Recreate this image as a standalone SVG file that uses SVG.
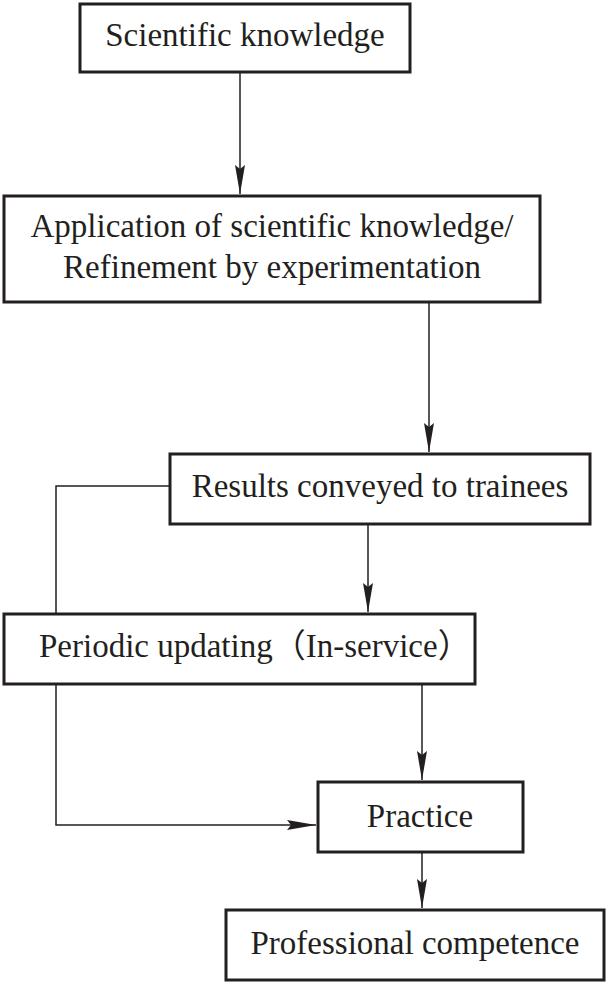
<svg xmlns="http://www.w3.org/2000/svg" width="607" height="983" viewBox="0 0 607 983">
<style>
.box{fill:#fff;stroke:#231f20;stroke-width:3}
.t{font-family:"Liberation Serif","Noto Sans CJK SC",serif;font-size:33px;fill:#231f20}
.c{text-anchor:middle}
.ln{fill:none;stroke:#231f20;stroke-width:1.5}
</style>
<defs>
<marker id="ah" markerUnits="userSpaceOnUse" viewBox="-30 -6 30 12" markerWidth="30" markerHeight="12" refX="0" refY="0" orient="auto">
<path d="M0,0 L-29,-5 L-25,0 L-29,5 Z" fill="#231f20"/>
</marker>
</defs>
<rect width="607" height="983" fill="#fff"/>
<g id="connectors">
<path class="ln" d="M240,72 V194" marker-end="url(#ah)"/>
<path class="ln" d="M429,302 V452" marker-end="url(#ah)"/>
<path class="ln" d="M368,524 V612" marker-end="url(#ah)"/>
<path class="ln" d="M170,486 H56 V614"/>
<path class="ln" d="M56,684 V825 H316" marker-end="url(#ah)"/>
<path class="ln" d="M422,684 V780" marker-end="url(#ah)"/>
<path class="ln" d="M422,852 V908" marker-end="url(#ah)"/>
</g>
<g id="n1">
<rect class="box" x="80" y="4" width="330" height="68"/>
<text class="t c" x="245" y="46">Scientific knowledge</text>
</g>
<g id="n2">
<rect class="box" x="4" y="196" width="536" height="106"/>
<text class="t c" x="272" y="237">Application of scientific knowledge/</text>
<text class="t c" x="272" y="278">Refinement by experimentation</text>
</g>
<g id="n3">
<rect class="box" x="170" y="454" width="420" height="70"/>
<text class="t c" x="380" y="497">Results conveyed to trainees</text>
</g>
<g id="n4">
<rect class="box" x="4" y="614" width="471" height="70"/>
<text class="t" x="39" y="657">Periodic updating（In-service）</text>
</g>
<g id="n5">
<rect class="box" x="318" y="782" width="205" height="70"/>
<text class="t c" x="420" y="827">Practice</text>
</g>
<g id="n6">
<rect class="box" x="226" y="910" width="378" height="70"/>
<text class="t c" x="415" y="954">Professional competence</text>
</g>
</svg>
